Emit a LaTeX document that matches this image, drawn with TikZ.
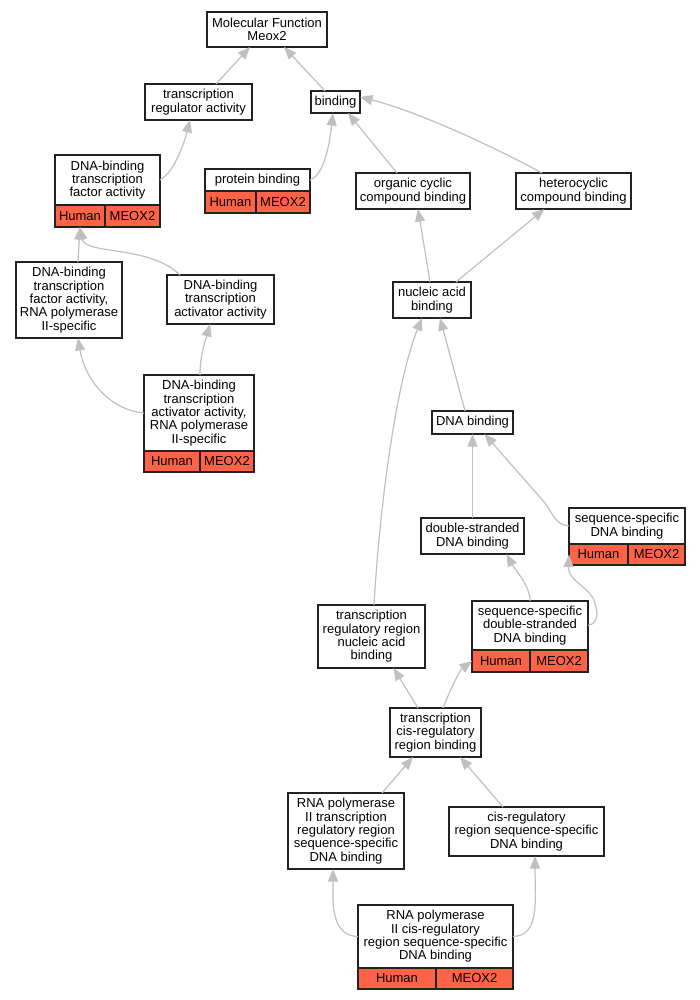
\documentclass[tikz,border=0pt]{standalone}
\usepackage{fontspec}
\setmainfont{Liberation Sans}
\usetikzlibrary{arrows.meta,calc}
\definecolor{redcell}{HTML}{FF6347}
\definecolor{edgegray}{HTML}{C0C0C0}
\definecolor{boxline}{HTML}{222222}
\tikzset{
  box/.style={draw=boxline, line width=1.2pt, fill=white, inner sep=0pt, outer sep=0pt, align=center,
    font=\fontsize{13}{13.33}\selectfont},
  cell/.style={box, fill=redcell},
  edge/.style={draw=edgegray, line width=1.2pt, -{Triangle[length=12.5pt,width=10pt]}},
}
\newcommand\gobox[6]{\node[box, minimum width={#4-#2}, minimum height={#5-#3}] (#1) at ({(#2+#4)/2},{(#3+#5)/2}) {#6};}
\newcommand\gocell[6]{\node[cell, minimum width={#4-#2}, minimum height={#5-#3}] (#1) at ({(#2+#4)/2},{(#3+#5)/2}) {#6};}
\begin{document}
\begin{tikzpicture}[x=1pt,y=-1pt]
\useasboundingbox[fill=white] (0,0) rectangle (700,1000);
% nodes
\gobox{mf}{207}{12}{327}{47}{Molecular Function\\Meox2}
\gobox{tra}{145}{84}{252}{120}{transcription\\regulator activity}
\gobox{bind}{311}{91}{360}{113}{binding}
\gobox{dbtfa}{55}{155}{160}{205}{DNA-binding\\transcription\\factor activity}
\gocell{dbtfah}{55}{205}{105}{227}{Human}
\gocell{dbtfam}{105}{205}{160}{227}{MEOX2}
\gobox{pb}{205}{169}{310}{191}{protein binding}
\gocell{pbh}{205}{191}{256}{213}{Human}
\gocell{pbm}{256}{191}{310}{213}{MEOX2}
\gobox{occb}{356}{173}{470}{209}{organic cyclic\\compound binding}
\gobox{hccb}{516}{173}{631}{209}{heterocyclic\\compound binding}
\gobox{nab}{393}{282}{471}{318}{nucleic acid\\binding}
\gobox{dbtfr}{16}{262}{122}{338}{DNA-binding\\transcription\\factor activity,\\RNA polymerase\\II-specific}
\gobox{dbtaa}{167}{275}{274}{324}{DNA-binding\\transcription\\activator activity}
\gobox{dbtar}{144}{375}{254}{451}{DNA-binding\\transcription\\activator activity,\\RNA polymerase\\II-specific}
\gocell{dbtarh}{144}{451}{200}{472}{Human}
\gocell{dbtarm}{200}{451}{254}{472}{MEOX2}
\gobox{dnab}{432}{411}{513}{434}{DNA binding}
\gobox{dsdb}{421}{518}{524}{554}{double-stranded\\DNA binding}
\gobox{ssdb}{569}{508}{685}{544}{sequence-specific\\DNA binding}
\gocell{ssdbh}{569}{544}{628}{565}{Human}
\gocell{ssdbm}{628}{544}{685}{565}{MEOX2}
\gobox{ssds}{472}{601}{588}{650}{sequence-specific\\double-stranded\\DNA binding}
\gocell{ssdsh}{472}{650}{530}{672}{Human}
\gocell{ssdsm}{530}{650}{588}{672}{MEOX2}
\gobox{trrn}{318}{605}{425}{668}{transcription\\regulatory region\\nucleic acid\\binding}
\gobox{tcrb}{390}{708}{481}{757}{transcription\\cis-regulatory\\region binding}
\gobox{rp2t}{288}{793}{404}{869}{RNA polymerase\\II transcription\\regulatory region\\sequence-specific\\DNA binding}
\gobox{cisr}{449}{807}{604}{856}{cis-regulatory\\region sequence-specific\\DNA binding}
\gobox{rp2c}{358}{905}{513}{968}{RNA polymerase\\II cis-regulatory\\region sequence-specific\\DNA binding}
\gocell{rp2ch}{358}{968}{436}{989}{Human}
\gocell{rp2cm}{436}{968}{513}{989}{MEOX2}
% edges
\draw[edge] ($(tra.north)+(17.5,0)$) -- ($(mf.south)+(-17,0)$);
\draw[edge] ($(bind.north)+(-10.5,0)$) -- ($(mf.south)+(17,0)$);
\draw[edge] (dbtfa.east) .. controls (175,172) and (185,140) .. ($(tra.south)+(-8.5,0)$);
\draw[edge] (pb.east) .. controls (325,175) and (330,140) .. ($(bind.south)+(-2.5,0)$);
\draw[edge] ($(occb.north)+(-16,0)$) -- ($(bind.south)+(12.5,0)$);
\draw[edge] ($(hccb.north)+(-31.5,0)$) .. controls (500,150) and (420,112) .. ($(bind.east)+(0,-5)$);
\draw[edge] ($(nab.north)+(-2,0)$) -- ($(occb.south)+(5,0)$);
\draw[edge] ($(nab.north)+(24,0)$) -- ($(hccb.south)+(-29,0)$);
\draw[edge] ($(dbtfr.north)+(9,0)$) -- (dbtfah.south);
\draw[edge] ($(dbtaa.north)+(-40.5,0)$) .. controls (150,245) and (85,255) .. (dbtfah.south);
\draw[edge] (dbtar.west) .. controls (110,410) and (85,380) .. ($(dbtfr.south)+(9,0)$);
\draw[edge] ($(dbtar.north)+(1,0)$) .. controls (200,355) and (205,342) .. ($(dbtaa.south)+(-10.5,0)$);
\draw[edge] ($(dnab.north)+(-7.5,0)$) -- ($(nab.south)+(8,0)$);
\draw[edge] ($(trrn.north)+(2.5,0)$) .. controls (380,500) and (397,380) .. ($(nab.south)+(-10,0)$);
\draw[edge] (dsdb.north) -- (dnab.south);
\draw[edge] (ssdb.west) .. controls (555,525) and (552,512) .. (545,503) -- ($(dnab.south)+(12,0)$);
\draw[edge] (ssds.north) .. controls (530,585) and (515,570) .. ($(dsdb.south)+(34,0)$);
\draw[edge] (ssds.east) .. controls (600,623) and (598,610) .. (593,598) .. controls (585,585) and (568,580) .. (ssdbh.west);
\draw[edge] ($(tcrb.north)+(-17.5,0)$) -- ($(trrn.south)+(22,0)$);
\draw[edge] ($(tcrb.north)+(7.5,0)$) .. controls (450,690) and (460,670) .. (ssdsh.west);
\draw[edge] ($(rp2t.north)+(36,0)$) -- ($(tcrb.south)+(-22.5,0)$);
\draw[edge] ($(cisr.north)+(-23.5,0)$) -- ($(tcrb.south)+(24.5,0)$);
\draw[edge] (rp2c.west) .. controls (330,936) and (333,900) .. ($(rp2t.south)+(-13,0)$);
\draw[edge] (rp2c.east) .. controls (540,936) and (535,900) .. ($(cisr.south)+(8.5,0)$);
\end{tikzpicture}
\end{document}
